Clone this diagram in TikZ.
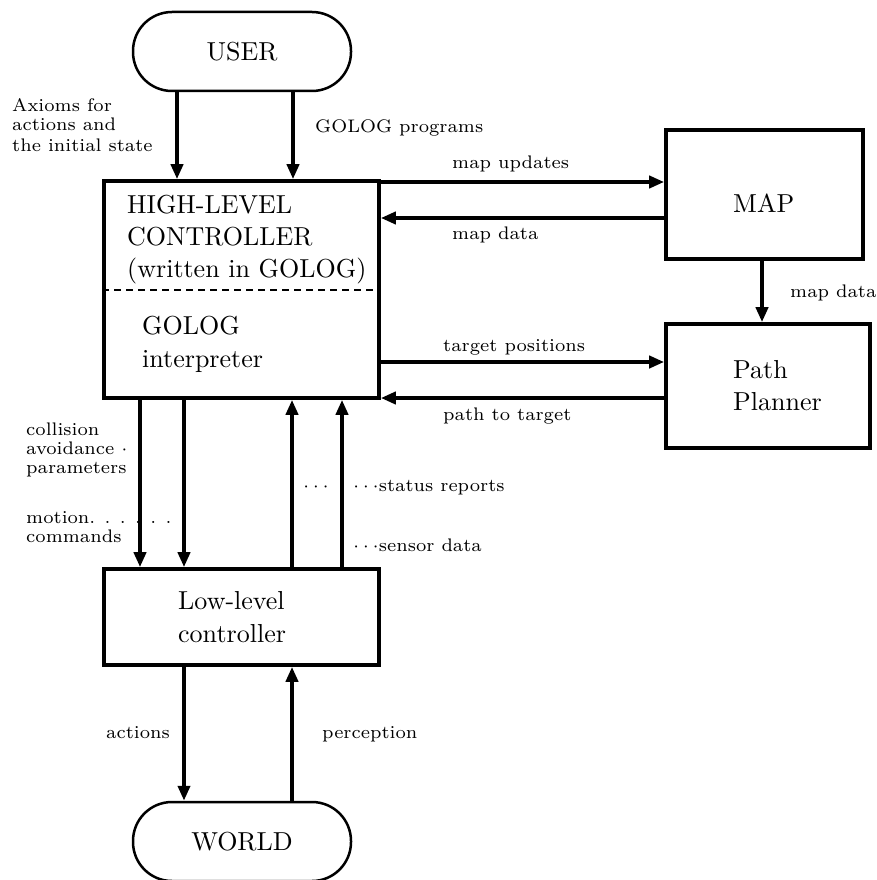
\documentclass[tikz,border=0pt]{standalone}
\usepackage{graphicx}
\usetikzlibrary{arrows.meta}
\newcommand\LG[1]{\scalebox{2.6}{\fontsize{10}{12}\selectfont #1}}
\newcommand\SM[1]{\scalebox{2.6}{\fontsize{7}{8}\selectfont #1}}
\begin{document}
\begin{tikzpicture}[x=1pt,y=-1pt,
  box/.style={draw,line width=3.6pt,inner sep=0pt},
  term/.style={draw,line width=2.5pt,rounded corners=39pt,minimum width=218pt,minimum height=79pt,inner sep=0pt},
  arr/.style={line width=4pt,-{Triangle[length=15pt,width=12pt]}},
  txt/.style={inner sep=0pt,anchor=base west},
]
\useasboundingbox (0,0) rectangle (877,880);
% nodes
\node[term] (user) at (242,51.5) {\LG{USER}};
\node[box,minimum width=275pt,minimum height=217pt] (hlc) at (241.5,289.5) {};
\node[box,minimum width=197pt,minimum height=129pt] (map) at (764.5,194.5) {};
\node[box,minimum width=204pt,minimum height=124pt] (planner) at (768,386) {};
\node[box,minimum width=275pt,minimum height=96pt] (low) at (241.5,617) {};
\node[term] (world) at (242,841.5) {\LG{WORLD}};
% helper coordinates
\coordinate (kA) at (177,0);
\coordinate (kB) at (293,0);
\coordinate (kC) at (140,0);
\coordinate (kD) at (184,0);
\coordinate (kE) at (292,0);
\coordinate (kF) at (342,0);
\coordinate (kM) at (762,0);
\coordinate (kR1) at (0,182);
\coordinate (kR2) at (0,218);
\coordinate (kR3) at (0,362);
\coordinate (kR4) at (0,398);
\coordinate (kDash) at (0,290);
% dashed separator
\draw[line width=2.5pt,dash pattern=on 7pt off 5pt] (hlc.west |- kDash) -- (hlc.east |- kDash);
% box texts
\node[txt] (t1) at (127,213) {\LG{HIGH-LEVEL}};
\node[txt] (t2) at (127,245) {\LG{CONTROLLER}};
\node[txt] (t3) at (127,277) {\LG{(written in GOLOG)}};
\node[txt] (t4) at (142,334) {\LG{GOLOG}};
\node[txt] (t5) at (142,367) {\LG{interpreter}};
\node[txt] (t6) at (733,212) {\LG{MAP}};
\node[txt] (t7) at (733,378) {\LG{Path}};
\node[txt] (t8) at (733,410) {\LG{Planner}};
\node[txt] (t9) at (178,609) {\LG{Low-level}};
\node[txt] (t10) at (178,642) {\LG{controller}};
% labels
\node[txt] (a1) at (12,112) {\SM{Axioms for}};
\node[txt] (a2) at (12,131) {\SM{actions and}};
\node[txt] (a3) at (12,151) {\SM{the initial state}};
\node[txt] (g1) at (315,132) {\SM{GOLOG programs}};
\node[txt] (mu) at (452,168) {\SM{map updates}};
\node[txt] (md1) at (452,239) {\SM{map data}};
\node[txt] (md2) at (790,297) {\SM{map data}};
\node[txt] (tp) at (443,351) {\SM{target positions}};
\node[txt] (pt) at (443,420) {\SM{path to target}};
\node[txt] (c1) at (26,435) {\SM{collision}};
\node[txt] (c2) at (26,454) {\SM{avoidance $\cdot$}};
\node[txt] (c3) at (26,473) {\SM{parameters}};
\node[txt] (m1) at (26,523) {\SM{motion. . . . . . .}};
\node[txt] (m2) at (26,542) {\SM{commands}};
\node[txt] (s0) at (303,491) {\SM{$\cdots$}};
\node[txt] (s1) at (353,491) {\SM{$\cdots$status reports}};
\node[txt] (sd) at (353,551) {\SM{$\cdots$sensor data}};
\node[txt] (ac) at (106,738) {\SM{actions}};
\node[txt] (pe) at (322,738) {\SM{perception}};
% connectors
\draw[arr] (user.south -| kA) -- (hlc.north -| kA);
\draw[arr] (user.south -| kB) -- (hlc.north -| kB);
\draw[arr] (hlc.east |- kR1) -- (map.west |- kR1);
\draw[arr] (map.west |- kR2) -- (hlc.east |- kR2);
\draw[arr] (map.south -| kM) -- (planner.north -| kM);
\draw[arr] (hlc.east |- kR3) -- (planner.west |- kR3);
\draw[arr] (planner.west |- kR4) -- (hlc.east |- kR4);
\draw[arr] (hlc.south -| kC) -- (low.north -| kC);
\draw[arr] (hlc.south -| kD) -- (low.north -| kD);
\draw[arr] (low.north -| kE) -- (hlc.south -| kE);
\draw[arr] (low.north -| kF) -- (hlc.south -| kF);
\draw[arr] (low.south -| kD) -- (world.north -| kD);
\draw[arr] (world.north -| kE) -- (low.south -| kE);
\end{tikzpicture}
\end{document}
